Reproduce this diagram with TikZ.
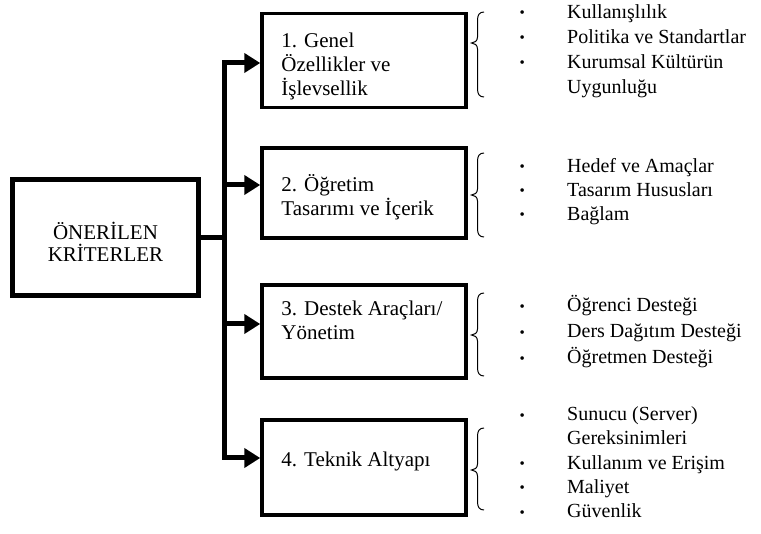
\documentclass[tikz,border=0pt]{standalone}
\usepackage{fontspec}
\setmainfont{Liberation Serif}
\usetikzlibrary{arrows.meta,calc}
\newcommand\blt{\makebox[18pt]{\raisebox{0.5pt}{\fontsize{15}{16}\selectfont •}}}
\begin{document}
\begin{tikzpicture}[x=1pt,y=-1pt,
  mainbox/.style={draw, line width=5pt, inner sep=0pt, minimum width=186pt, minimum height=116pt},
  critbox/.style={draw, line width=3.5pt, inner sep=0pt, minimum width=204pt},
  boxtext/.style={inner sep=0pt, anchor=west, align=left, font=\fontsize{21}{24}\selectfont},
  maintext/.style={inner sep=0pt, align=center, font=\fontsize{21}{21.5}\selectfont},
  conn/.style={line width=5pt, line cap=rect},
  arr/.style={line width=5pt, -{Triangle[length=16pt,width=19pt]}},
  bracestyle/.style={line width=1pt},
  listnode/.style={inner sep=0pt, anchor=west}]
\newcommand\critbrace[3]{%
  \draw[bracestyle] (484,#1) .. controls (479.5,#1) and (477.5,#1+3) .. (477.5,#1+8)
    -- (477.5,#2-6) .. controls (477.5,#2-2) and (474.5,#2) .. (471.5,#2)
    .. controls (474.5,#2) and (477.5,#2+2) .. (477.5,#2+6)
    -- (477.5,#3-8) .. controls (477.5,#3-3) and (479.5,#3) .. (484,#3);}
\useasboundingbox (0,0) rectangle (761,534);

% boxes
\node[mainbox] (main) at (105.5,237.5) {};
\node[critbox, minimum height=94pt] (b1) at (364,60.5) {};
\node[critbox, minimum height=90pt] (b2) at (364,193) {};
\node[critbox, minimum height=93pt] (b3) at (364,331.5) {};
\node[critbox, minimum height=95pt] (b4) at (364,467.5) {};

% texts
\node[maintext] (t0) at ($(main.center)+(0,4.5)$) {ÖNERİLEN\\KRİTERLER};
\node[boxtext] (t1) at ($(b1.west)+(21,5.5)$) {1. Genel\\Özellikler ve\\İşlevsellik};
\node[boxtext] (t2) at ($(b2.west)+(21,4)$) {2. Öğretim\\Tasarımı ve İçerik};
\node[boxtext] (t3) at ($(b3.west)+(21,-11)$) {3. Destek Araçları/\\Yönetim};
\node[boxtext] (t4) at ($(b4.west)+(21,-6.5)$) {4. Teknik Altyapı};

% connectors
\coordinate (s1) at (224,63);
\coordinate (s2) at (224,185);
\coordinate (s3) at (224,324);
\coordinate (s4) at (224,458);
\draw[conn] (s1) -- (s4);
\draw[conn] (main.east) -- (main.east -| s1);
\draw[arr] (s1) -- (b1.west |- s1);
\draw[arr] (s2) -- (b2.west |- s2);
\draw[arr] (s3) -- (b3.west |- s3);
\draw[arr] (s4) -- (b4.west |- s4);

% braces
\critbrace{12}{43}{97}
\critbrace{153}{195}{237}
\critbrace{293}{335}{376}
\critbrace{428}{470}{510}

% lists
\node[listnode] (l1) at (513,50.6) {\fontsize{20}{25}\selectfont
\begin{tabular}{@{}l@{\hspace{36pt}}l@{}}
\blt & Kullanışlılık\\
\blt & Politika ve Standartlar\\
\blt & Kurumsal Kültürün\\
 & Uygunluğu
\end{tabular}};
\node[listnode] (l2) at (513,191.3) {\fontsize{20}{24}\selectfont
\begin{tabular}{@{}l@{\hspace{36pt}}l@{}}
\blt & Hedef ve Amaçlar\\
\blt & Tasarım Hususları\\
\blt & Bağlam
\end{tabular}};
\node[listnode] (l3) at (513,332.4) {\fontsize{20}{26}\selectfont
\begin{tabular}{@{}l@{\hspace{36pt}}l@{}}
\blt & Öğrenci Desteği\\
\blt & Ders Dağıtım Desteği\\
\blt & Öğretmen Desteği
\end{tabular}};
\node[listnode] (l4) at (513,464.2) {\fontsize{20}{24.25}\selectfont
\begin{tabular}{@{}l@{\hspace{36pt}}l@{}}
\blt & Sunucu (Server)\\
 & Gereksinimleri\\
\blt & Kullanım ve Erişim\\
\blt & Maliyet\\
\blt & Güvenlik
\end{tabular}};
\end{tikzpicture}
\end{document}
